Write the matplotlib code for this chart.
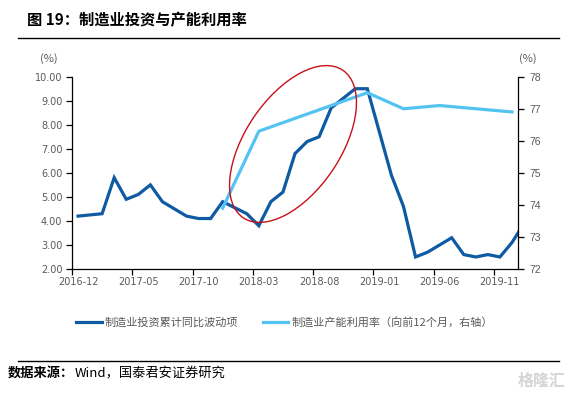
import matplotlib
matplotlib.use('Agg')
import matplotlib.pyplot as plt
import numpy as np
import pandas as pd
from matplotlib.patches import Ellipse
from matplotlib.lines import Line2D
import matplotlib.transforms as mtransforms

plt.rcParams['font.family'] = ['Noto Sans CJK SC', 'DejaVu Sans']

# ---------------- data ----------------
months = [p.strftime('%Y-%m') for p in pd.period_range('2016-12', '2020-01', freq='M')]
invest = [4.2, np.nan, 4.3, 5.8, 4.9, 5.1, 5.5, 4.8, 4.5, 4.2, 4.1, 4.1,
          4.8, np.nan, 4.3, 3.8, 4.8, 5.2, 6.8, 7.3, 7.5, 8.7, 9.1, 9.5,
          9.5, np.nan, 5.9, 4.6, 2.5, 2.7, 3.0, 3.3, 2.6, 2.5, 2.6, 2.5,
          3.1, 3.9]
util_months = ['2017-12', '2018-03', '2018-06', '2018-09', '2018-12',
               '2019-03', '2019-06', '2019-09', '2019-12']
util_vals = [73.9, 76.3, 76.7, 77.1, 77.5, 77.0, 77.1, 77.0, 76.9]
tick_labels = ['2016-12', '2017-05', '2017-10', '2018-03', '2018-08',
               '2019-01', '2019-06', '2019-11']
label_invest = '制造业投资累计同比波动项'
label_util = '制造业产能利用率（向前12个月，右轴）'
title = '图 19：制造业投资与产能利用率'
source_a = '数据来源：'
source_b = 'Wind，国泰君安证券研究'

# ---------------- figure ----------------
W, H = 571, 399
fig = plt.figure(figsize=(W / 100, H / 100), dpi=100)
ax = fig.add_axes([72 / W, 1 - 269 / H, (518 - 72) / W, (269 - 76.7) / H])
ax2 = ax.twinx()

dark = '#0E5AA3'
light = '#55C3F2'
gray = '#595959'

inv = np.array(invest, dtype=float)
xi = np.arange(len(months)) + 0.5
m = ~np.isnan(inv)
ax.plot(xi[m], inv[m], color=dark, lw=2.3, solid_joinstyle='miter', zorder=3)

ux = [months.index(mm) + 0.5 for mm in util_months]
ax2.plot(ux, util_vals, color=light, lw=2.3, zorder=3)

ax.set_xlim(0, 37)
ax.set_ylim(2, 10)
ax2.set_ylim(72, 78)

ax.set_yticks(np.arange(2, 10.01, 1))
ax.set_yticklabels(['%.2f' % v for v in np.arange(2, 10.01, 1)], fontfamily='DejaVu Sans')
ax2.set_yticks(np.arange(72, 78.01, 1))
ax2.set_yticklabels(['%d' % v for v in np.arange(72, 78.01, 1)], fontfamily='Liberation Sans')

ax.set_xticks(np.arange(0, 36, 5))
ax.set_xticklabels([])
ax.set_xticks([months.index(t) + 0.5 for t in tick_labels], minor=True)
ax.set_xticklabels(tick_labels, minor=True, fontfamily='DejaVu Sans')
ax.tick_params(axis='x', which='minor', length=0, pad=6, labelsize=7, labelcolor=gray)
ax.tick_params(axis='x', which='major', length=4, width=0.9, direction='out', color='black')
ax.tick_params(axis='y', length=4, width=0.9, direction='out', labelsize=7, labelcolor=gray, pad=3)
ax2.tick_params(axis='y', length=4, width=0.9, direction='out', labelsize=7.5, labelcolor=gray, pad=4)

for a in (ax, ax2):
    a.spines['top'].set_visible(False)
    for s in a.spines.values():
        s.set_color('black')
        s.set_linewidth(0.9)
ax.spines['right'].set_visible(False)
ax2.spines['left'].set_visible(False)
ax2.spines['bottom'].set_visible(False)

fig.text(49 / W, 1 - 59 / H, '(%)', ha='center', va='center', fontsize=8, color=gray)
fig.text(528 / W, 1 - 59 / H, '(%)', ha='center', va='center', fontsize=8, color=gray)

# title and rules
fig.text(27 / W, 1 - 20 / H, title, ha='left', va='center', fontsize=11, fontweight='bold')
fig.add_artist(Line2D([18 / W, 559 / W], [1 - 38.3 / H] * 2, color='black', lw=1))
fig.add_artist(Line2D([18 / W, 559 / W], [1 - 361 / H] * 2, color='black', lw=1))

# legend
handles = [Line2D([], [], color=dark, lw=2.3), Line2D([], [], color=light, lw=2.3)]
fig.legend(handles, [label_invest, label_util], loc='center left',
           bbox_to_anchor=(76 / W, 1 - 322.7 / H), ncol=2, frameon=False,
           fontsize=8, labelcolor=gray, handlelength=2.3, handletextpad=0.3,
           columnspacing=2.2, borderaxespad=0, borderpad=0)

# source
fig.text(8 / W, 1 - 373 / H, source_a, ha='left', va='center', fontsize=9.5, fontweight='bold')
fig.text(75 / W, 1 - 373 / H, source_b, ha='left', va='center', fontsize=9.5)

# watermark
fig.text(518 / W, 1 - 381 / H, '格隆汇', ha='left', va='center', fontsize=11.5,
         color='#d4d4d4', fontweight='bold')

# red ellipse annotation (pixel geometry of the figure)
ptrans = mtransforms.Affine2D().scale(1 / W, 1 / H) + fig.transFigure
ell = Ellipse((293, H - 144), 178, 95, angle=56, transform=ptrans,
              fill=False, edgecolor='#C8101A', lw=1.0)
fig.add_artist(ell)

fig.savefig('out.png', dpi=100)
